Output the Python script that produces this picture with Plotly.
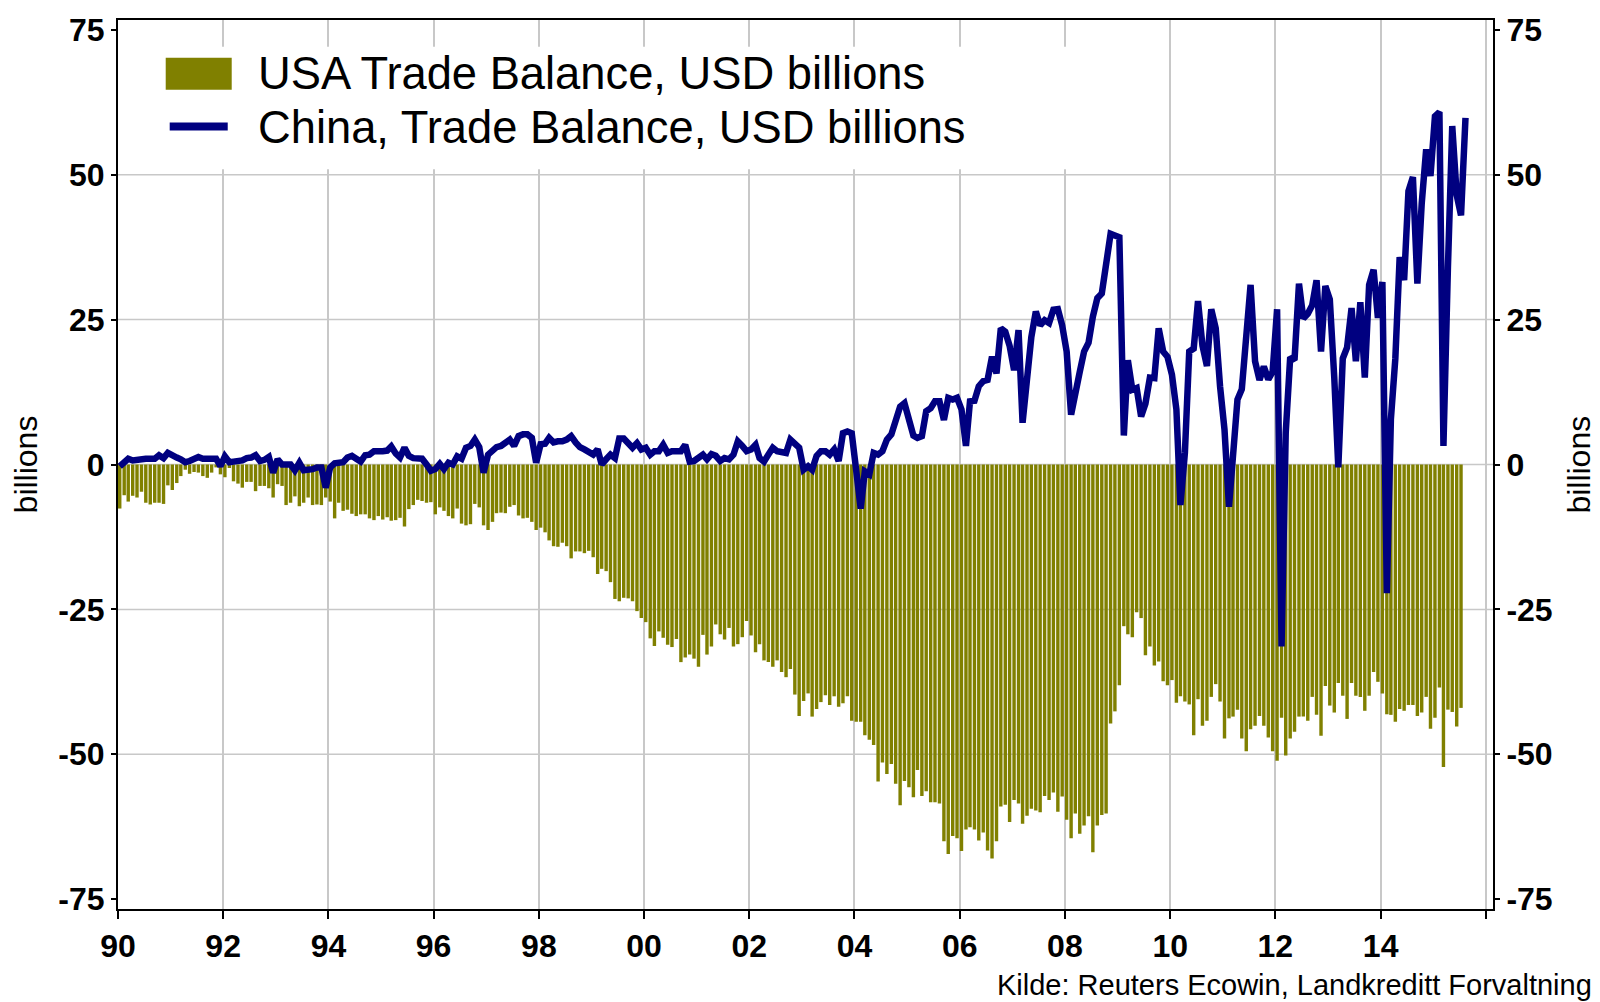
import pandas as pd
import plotly.graph_objects as go

# ---------------- data (monthly, starting Jan 1990) ----------------
START_MONTH = "1990-01-01"

china_trade_balance = [
    -0.3, 0.3, 1.0, 0.7, 0.8, 1.1, 1.0, 1.0, 1.0, 1.6, 1.1, 2.0,          # 1990
    1.5, 1.2, 0.9, 0.4, 0.6, 1.0, 1.3, 1.0, 0.9, 1.0, 1.0, -0.3,          # 1991
    1.4, 0.4, 0.5, 0.5, 0.7, 1.1, 1.2, 1.6, 0.6, 0.8, 1.3, -1.4,          # 1992
    0.9, 0.0, 0.0, 0.0, -1.0, 0.3, -1.0, -1.0, -0.8, -0.5, -0.5, -4.0,    # 1993
    -0.5, 0.2, 0.3, 0.4, 1.2, 1.5, 1.0, 0.5, 1.6, 1.7, 2.3, 2.2,          # 1994
    2.3, 2.4, 3.1, 1.9, 1.2, 2.9, 1.5, 1.1, 1.1, 1.0, 0.0, -1.1,          # 1995
    -0.8, 0.1, -0.8, 0.3, 0.0, 1.4, 1.0, 2.9, 3.2, 4.3, 3.0, -1.4,        # 1996
    1.7, 2.3, 3.0, 3.2, 3.7, 4.3, 3.2, 4.9, 5.2, 5.2, 4.6, 0.3,           # 1997
    3.5, 3.6, 4.6, 3.8, 4.0, 4.0, 4.3, 4.9, 3.8, 3.0, 2.6, 2.3,           # 1998
    1.7, 2.6, 0.0, 0.9, 1.7, 1.1, 4.5, 4.5, 3.5, 2.9, 3.7, 2.6,           # 1999
    2.9, 1.7, 2.3, 2.3, 3.4, 2.0, 2.3, 2.3, 2.3, 3.4, 0.5, 0.6,           # 2000
    1.2, 1.7, 0.9, 1.8, 1.5, 0.6, 1.1, 0.9, 1.7, 4.0, 3.2, 2.3,           # 2001
    2.6, 3.4, 1.1, 0.5, 1.7, 2.9, 2.3, 2.0, 2.0, 4.3, 3.6, 2.9,           # 2002
    -0.9, -0.3, -0.9, 1.5, 2.3, 2.3, 1.7, 2.6, 0.6, 5.4, 5.7, 5.4,        # 2003
    -1.0, -7.6, -1.2, -1.7, 2.0, 1.7, 2.3, 4.3, 5.2, 7.4, 10.0, 10.6,     # 2004
    7.5, 5.0, 4.6, 4.9, 9.2, 9.7, 10.9, 10.9, 7.7, 11.5, 11.2, 11.5,      # 2005
    9.5, 3.2, 10.9, 11.0, 13.5, 14.4, 14.6, 18.6, 15.7, 23.5, 22.9, 20.5, # 2006
    16.3, 23.2, 7.2, 15.5, 22.0, 26.4, 24.0, 24.9, 24.4, 26.7, 26.8, 24.0,  # 2007
    19.5, 8.6, 13.0, 16.0, 19.5, 21.0, 25.5, 28.7, 29.5, 35.0, 39.8, 39.5,  # 2008
    39.2, 5.0, 18.0, 12.9, 13.2, 8.3, 10.5, 15.0, 14.9, 23.5, 19.5, 18.6,   # 2009
    15.5, 9.5, -7.0, 2.0, 19.5, 20.0, 28.2, 20.5, 17.0, 26.8, 23.5, 13.5,   # 2010
    6.0, -7.3, 0.3, 11.2, 13.0, 22.0, 31.0, 17.8, 14.6, 16.9, 14.7, 16.0,   # 2011
    26.8, -31.4, 5.5, 18.5, 18.0, 31.2, 25.2, 26.0, 27.5, 31.8, 19.5, 30.8, # 2012
    28.5, 15.0, -0.5, 18.3, 20.2, 27.0, 17.8, 28.0, 15.0, 31.0, 33.6, 25.3, # 2013
    31.5, -22.2, 7.8, 18.3, 35.8, 31.8, 47.2, 49.6, 31.2, 45.0, 54.4, 49.8, # 2014
    60.1, 60.8, 3.2, 34.0, 58.4, 46.5, 43.0, 59.8,                          # 2015
]

usa_trade_balance = [
    -7.6, -5.3, -6.4, -5.4, -5.7, -4.7, -6.6, -6.9, -6.6, -6.6, -6.8, -3.6,         # 1990
    -4.4, -3.2, -2.0, -0.9, -1.6, -1.3, -1.4, -2.0, -2.3, -1.4, -0.5, -1.7,         # 1991
    -2.2, -0.6, -2.9, -3.3, -4.0, -3.0, -3.0, -4.6, -3.7, -3.7, -4.1, -5.7,         # 1992
    -3.4, -3.7, -7.0, -6.6, -5.5, -7.2, -6.6, -5.7, -7.0, -6.9, -7.0, -5.7,         # 1993
    -6.4, -9.3, -6.6, -8.0, -7.8, -8.5, -8.9, -8.6, -8.6, -9.3, -9.6, -8.9,         # 1994
    -9.5, -9.1, -9.7, -9.6, -9.2, -10.7, -7.7, -7.0, -6.1, -6.3, -6.6, -6.5,        # 1995
    -8.6, -7.4, -8.0, -8.9, -9.3, -7.6, -10.2, -10.5, -10.3, -6.8, -7.4, -10.5,     # 1996
    -11.3, -9.9, -8.4, -8.3, -8.4, -7.3, -7.0, -8.8, -9.3, -9.2, -9.9, -11.3,       # 1997
    -10.9, -11.7, -13.1, -14.1, -14.2, -13.5, -14.1, -16.2, -15.0, -15.0, -15.3, -14.9,  # 1998
    -16.0, -18.9, -18.0, -18.4, -20.3, -23.2, -23.6, -23.0, -23.1, -23.6, -25.3, -26.5,  # 1999
    -27.2, -30.0, -31.3, -28.8, -29.9, -31.1, -31.5, -30.1, -34.1, -33.3, -32.8, -33.5,  # 2000
    -34.9, -29.4, -32.8, -31.4, -27.6, -29.3, -30.2, -28.2, -31.4, -31.0, -29.8, -27.0,  # 2001
    -29.5, -32.4, -31.0, -33.8, -34.1, -34.9, -33.8, -35.8, -36.7, -35.3, -39.7, -43.4,  # 2002
    -40.8, -39.5, -43.5, -42.2, -41.0, -39.8, -41.5, -40.0, -41.8, -41.2, -40.0, -44.2,  # 2003
    -44.4, -44.4, -46.7, -47.5, -48.4, -54.7, -51.4, -53.4, -51.7, -55.1, -58.8, -54.6,  # 2004
    -55.7, -57.4, -52.7, -57.2, -56.4, -58.3, -58.3, -58.5, -65.0, -67.2, -64.1, -64.5,  # 2005
    -66.7, -63.0, -62.6, -63.0, -64.9, -63.5, -66.6, -68.0, -65.0, -59.0, -58.7, -61.7,  # 2006
    -57.9, -58.5, -62.0, -60.6, -59.4, -59.7, -60.0, -57.2, -57.9, -56.6, -59.9, -57.3,  # 2007
    -61.3, -64.5, -60.2, -63.7, -62.3, -60.7, -66.9, -62.3, -60.5, -60.2, -44.7, -42.6,  # 2008
    -38.1, -27.9, -29.3, -29.8, -25.5, -26.5, -32.9, -31.4, -34.7, -34.0, -37.4, -38.1,  # 2009
    -37.2, -41.1, -40.0, -40.9, -41.4, -46.7, -40.5, -45.1, -44.2, -40.1, -37.9, -40.9,  # 2010
    -47.3, -43.8, -43.5, -42.3, -47.3, -49.5, -45.7, -45.1, -43.4, -45.1, -47.1, -49.5,  # 2011
    -51.1, -43.7, -50.2, -47.3, -46.1, -43.5, -43.5, -44.2, -40.1, -43.2, -46.8, -38.2,  # 2012
    -41.6, -42.8, -37.7, -39.9, -43.9, -37.7, -39.9, -40.1, -42.5, -39.9, -35.8, -37.5,  # 2013
    -39.5, -43.1, -43.2, -44.4, -42.2, -42.5, -41.5, -41.5, -43.4, -42.8, -40.1, -45.6,  # 2014
    -43.7, -38.5, -52.2, -42.3, -42.7, -45.2, -42.0,                                     # 2015
]

x_tick_years = list(range(1990, 2017, 2))
x_tick_labels = ["90", "92", "94", "96", "98", "00", "02", "04", "06", "08", "10", "12", "14", ""]
y_tick_values = [-75, -50, -25, 0, 25, 50, 75]
y_tick_labels = ["-75", "-50", "-25", "0", "25", "50", "75"]

usa_name = "USA Trade Balance, USD billions"
china_name = "China, Trade Balance, USD billions"
axis_title = "billions"
source_text = "Kilde: Reuters Ecowin, Landkreditt Forvaltning"

# ---------------- styling ----------------
FONT = "Liberation Sans, Arial, Helvetica, sans-serif"
OLIVE = "#808000"
NAVY = "#000080"
GRID = "#c8c8c8"
Y_RANGE = [-76.7, 76.7]
X_RANGE = ["1990-01-01", "2016-02-20"]
MONTH_MS = 30.44 * 86400000
BAR_WIDTH = 0.78 * MONTH_MS

dates_china = pd.date_range(START_MONTH, periods=len(china_trade_balance), freq="MS") + pd.Timedelta(days=12)
dates_usa = dates_china[:len(usa_trade_balance)]

fig = go.Figure()
fig.add_trace(go.Bar(
    x=dates_usa, y=usa_trade_balance, name=usa_name,
    marker=dict(color=OLIVE, line=dict(width=0)), width=BAR_WIDTH,
    yaxis="y", showlegend=False,
))
fig.add_trace(go.Scatter(
    x=dates_china, y=china_trade_balance, name=china_name, mode="lines",
    line=dict(color=NAVY, width=6.5), yaxis="y2", showlegend=False,
))

tickfont = dict(family=FONT, size=32, color="black", weight="bold")

fig.update_layout(
    width=1600, height=1002,
    margin=dict(l=118, r=107, t=18, b=93, pad=0),
    paper_bgcolor="white", plot_bgcolor="white",
    showlegend=False,
    xaxis=dict(
        type="date", range=X_RANGE,
        tickvals=[f"{y}-01-01" for y in x_tick_years], ticktext=x_tick_labels,
        showgrid=True, gridcolor=GRID, gridwidth=1.5,
        showline=True, linecolor="black", linewidth=2, mirror=True,
        ticks="outside", ticklen=8, tickwidth=2, tickcolor="black",
        tickfont=tickfont, zeroline=False,
    ),
    yaxis=dict(
        range=Y_RANGE, tickvals=y_tick_values, ticktext=y_tick_labels,
        showgrid=False, zeroline=False,
        showline=True, linecolor="black", linewidth=2,
        ticks="outside", ticklen=5, tickwidth=2, tickcolor="black",
        tickfont=tickfont,
    ),
    yaxis2=dict(
        range=Y_RANGE, tickvals=y_tick_values, ticktext=y_tick_labels,
        overlaying="y", side="right", anchor="x",
        showgrid=False, zeroline=False,
        showline=True, linecolor="black", linewidth=2,
        ticks="outside", ticklen=5, tickwidth=2, tickcolor="black",
        tickfont=tickfont,
    ),
)

# horizontal gridlines at the inner tick values
shapes = []
for v in y_tick_values[1:-1]:
    shapes.append(dict(type="line", xref="paper", x0=0, x1=1, yref="y", y0=v, y1=v,
                       line=dict(color=GRID, width=1.5), layer="below"))

# legend (drawn manually to match the large swatches)
shapes.append(dict(type="rect", xref="paper", yref="paper", x0=0.016, x1=0.72, y0=0.832, y1=0.970,
                   fillcolor="white", line=dict(width=0), layer="above"))
shapes.append(dict(type="rect", xref="paper", yref="paper", x0=0.0347, x1=0.0827, y0=0.9215, y1=0.9575,
                   fillcolor=OLIVE, line=dict(width=0), layer="above"))
shapes.append(dict(type="line", xref="paper", yref="paper", x0=0.0376, x1=0.0798, y0=0.8802, y1=0.8802,
                   line=dict(color=NAVY, width=8), layer="above"))
fig.update_layout(shapes=shapes)

legend_font = dict(family=FONT, size=45.3, color="black")
annotations = [
    dict(text=usa_name, xref="paper", yref="paper", x=0.1002, y=0.9393, xanchor="left", yanchor="middle",
         showarrow=False, font=legend_font),
    dict(text=china_name, xref="paper", yref="paper", x=0.1002, y=0.8794, xanchor="left", yanchor="middle",
         showarrow=False, font=legend_font),
    dict(text=axis_title, xref="paper", yref="paper", x=-0.0671, y=0.4998, xanchor="center", yanchor="middle",
         textangle=-90, showarrow=False, font=dict(family=FONT, size=32, color="black")),
    dict(text=axis_title, xref="paper", yref="paper", x=1.0625, y=0.4998, xanchor="center", yanchor="middle",
         textangle=-90, showarrow=False, font=dict(family=FONT, size=32, color="black")),
    dict(text=source_text, xref="paper", yref="paper", x=1.0733, y=-0.085, xanchor="right", yanchor="middle",
         showarrow=False, font=dict(family=FONT, size=29, color="black")),
]
fig.update_layout(annotations=annotations)

fig.write_html("out.html", config={"displayModeBar": False},
               post_script="document.body.style.margin='0px';")
